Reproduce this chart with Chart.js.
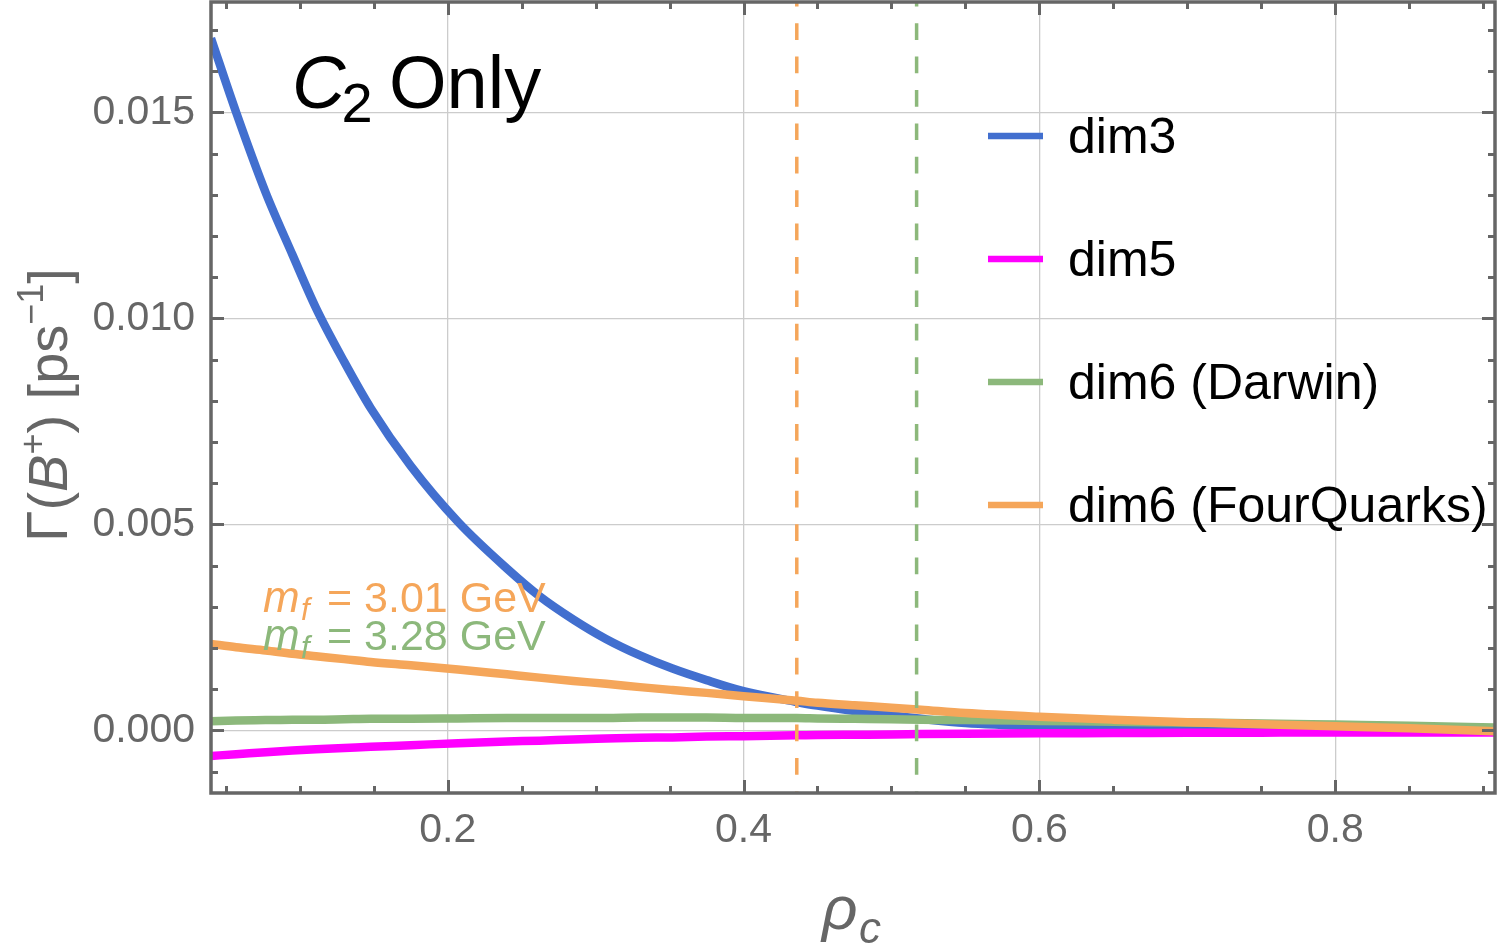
<!DOCTYPE html>
<html><head><meta charset="utf-8">
<script src="https://cdn.jsdelivr.net/npm/chart.js@4.4.1/dist/chart.umd.min.js"></script>
<style>html,body{margin:0;padding:0;background:#fff;overflow:hidden}#wrap{width:1500px;height:949px}</style>
</head><body><div id="wrap"><canvas id="c" width="1500" height="949"></canvas></div>
<script>
// ---- data ----
const rho = [0.04,0.057,0.077,0.095,0.111,0.13,0.148,0.175,0.207,0.24,0.262,0.285,0.307,0.33,0.352,0.375,0.4,0.436,0.45,0.475,0.5,0.52,0.55,0.6,0.65,0.7,0.75,0.8,0.85,0.908];
const dim3 = [0.0168,0.0150,0.01305,0.01155,0.01025,0.00895,0.00782,0.00642,0.00506,0.00393,0.00326,0.00269,0.00222,0.00182,0.0015,0.00122,0.00095,0.00069,0.0006,0.00047,0.00036,0.00028,0.00018,0.0001,0.00006,0.00003,0.00002,0.00001,0.0,0.0];
const dim5 = [-0.00062,-0.00058,-0.00053,-0.00049,-0.00046,-0.00043,-0.0004,-0.00036,-0.00031,-0.00027,-0.00025,-0.00022,-0.0002,-0.00018,-0.00017,-0.00015,-0.00014,-0.00012,-0.00011,-0.000105,-0.0001,-0.00009,-0.00008,-0.00007,-0.000065,-0.00006,-0.000055,-0.00005,-0.00005,-0.00005];
const dim6Darwin = [0.00022,0.00024,0.00025,0.00026,0.00026,0.00027,0.00028,0.00028,0.00029,0.0003,0.0003,0.0003,0.0003,0.00031,0.00031,0.00031,0.0003,0.0003,0.00029,0.00028,0.00027,0.00026,0.00025,0.00023,0.00021,0.00019,0.00017,0.00014,0.00011,0.00007];
const dim6FourQuarks = [0.0021,0.00202,0.00194,0.00186,0.0018,0.00173,0.00166,0.00158,0.00148,0.00136,0.00128,0.0012,0.00113,0.00105,0.00098,0.00091,0.00083,0.00072,0.00067,0.00061,0.00055,0.0005,0.00042,0.00033,0.00026,0.0002,0.00015,0.0001,0.00005,-0.00002];
const seriesLabels = ['dim3','dim5','dim6 (Darwin)','dim6 (FourQuarks)'];
const seriesColors = ['#426fcf','#ff00ff','#8cb87b','#f5a65a'];
const xTicks = [0.2,0.4,0.6,0.8];
const xTickLabels = ['0.2','0.4','0.6','0.8'];
const yTicks = [0,0.005,0.01,0.015];
const yTickLabels = ['0.000','0.005','0.010','0.015'];
const mfRho = [0.436,0.517];
const mfText = ['3.01 GeV','3.28 GeV'];
const mfColors = ['#f5a65a','#8cb87b'];
const xRange = [0.04,0.908];
const yRange = [-0.00152,0.01768];
const xMinorStep = 0.05, yMinorStep = 0.001;

const FONT = "'Liberation Sans', Arial, Helvetica, sans-serif";
const GRAY = '#666666';
const series = [dim3, dim5, dim6Darwin, dim6FourQuarks];

const datasets = series.map((s,i)=>({
  label: seriesLabels[i],
  data: rho.map((x,j)=>({x:x,y:s[j]})),
  borderColor: seriesColors[i],
  borderWidth: 8.5,
  pointRadius: 0,
  fill: false,
  cubicInterpolationMode: 'monotone',
  order: 4 - i
}));
mfRho.forEach((r,i)=>{
  datasets.push({
    label: 'mf' + i,
    data: [{x:r,y:yRange[1]},{x:r,y:yRange[0]}],
    borderColor: mfColors[i],
    borderWidth: 3.5,
    borderDash: [16.7,16.7],
    borderDashOffset: 12.2,
    pointRadius: 0,
    fill: false,
    order: 0
  });
});

const decor = {
  id: 'decor',
  afterDraw(chart){
    const ctx = chart.ctx, a = chart.chartArea, xs = chart.scales.x, ys = chart.scales.y;
    ctx.save();
    // ticks on all four sides
    ctx.strokeStyle = GRAY; ctx.lineWidth = 3;
    ctx.beginPath();
    for (let k = 1; k * xMinorStep <= xRange[1] + 1e-9; k++) {
      const v = k * xMinorStep; if (v < xRange[0]) continue;
      const px = Math.round(xs.getPixelForValue(v)) + 0.5;
      const len = (k % 4 === 0) ? 13 : 7;
      ctx.moveTo(px, a.bottom); ctx.lineTo(px, a.bottom - len);
      ctx.moveTo(px, a.top); ctx.lineTo(px, a.top + len);
    }
    for (let k = -1; k * yMinorStep <= yRange[1] + 1e-9; k++) {
      const v = k * yMinorStep; if (v < yRange[0]) continue;
      const py = Math.round(ys.getPixelForValue(v)) + 0.5;
      const len = (k % 5 === 0) ? 13 : 7;
      ctx.moveTo(a.left, py); ctx.lineTo(a.left + len, py);
      ctx.moveTo(a.right, py); ctx.lineTo(a.right - len, py);
    }
    ctx.stroke();
    // frame
    ctx.lineWidth = 3.5;
    ctx.strokeRect(a.left, a.top, a.right - a.left, a.bottom - a.top);

    // title C2 Only
    ctx.fillStyle = '#000';
    ctx.textBaseline = 'alphabetic'; ctx.textAlign = 'left';
    ctx.font = 'italic 74px ' + FONT;
    ctx.fillText('C', 292, 108);
    const cw = ctx.measureText('C').width;
    ctx.font = '56px ' + FONT;
    ctx.fillText('2', 292 + cw - 4, 122);
    ctx.font = '74px ' + FONT;
    ctx.fillText('Only', 389, 108);

    // legend
    const lx0 = 988, lx1 = 1043, ly0 = 136, lstep = 123;
    for (let i = 0; i < seriesLabels.length; i++) {
      const y = ly0 + i * lstep;
      ctx.strokeStyle = seriesColors[i]; ctx.lineWidth = 6.5;
      ctx.beginPath(); ctx.moveTo(lx0, y); ctx.lineTo(lx1, y); ctx.stroke();
      ctx.fillStyle = '#000'; ctx.font = '50px ' + FONT;
      ctx.fillText(seriesLabels[i], 1068, y + 17);
    }

    // m_f annotations
    const mfBase = [612, 650];
    for (let i = 0; i < mfText.length; i++) {
      ctx.fillStyle = mfColors[i];
      ctx.font = 'italic 44px ' + FONT;
      ctx.fillText('m', 263, mfBase[i]);
      ctx.font = 'italic 31px ' + FONT;
      ctx.fillText('f', 301, mfBase[i] + 8);
      ctx.font = '43px ' + FONT;
      ctx.fillText('= ' + mfText[i], 327, mfBase[i]);
    }

    // x title rho_c
    ctx.fillStyle = GRAY;
    ctx.font = 'italic 62px ' + FONT;
    ctx.fillText('\u03C1', 822, 929);
    ctx.font = 'italic 44px ' + FONT;
    ctx.fillText('c', 859, 943);

    // y title Γ(B+) [ps-1]
    ctx.save();
    ctx.translate(67, 542);
    ctx.rotate(-Math.PI / 2);
    let x = 0;
    const piece = (t, f, dy) => { ctx.font = f; ctx.fillText(t, x, dy || 0); x += ctx.measureText(t).width; };
    piece('\u0393', '57px ' + FONT);
    piece('(', '56px ' + FONT);
    piece('B', 'italic 56px ' + FONT);
    piece('+', '36px ' + FONT, -22);
    piece(')', '56px ' + FONT);
    piece(' [ps', '56px ' + FONT);
    piece('\u22121', '36px ' + FONT, -24);
    piece(']', '56px ' + FONT);
    ctx.restore();

    ctx.restore();
  }
};

new Chart(document.getElementById('c'), {
  type: 'line',
  data: { datasets: datasets },
  options: {
    responsive: false, animation: false, devicePixelRatio: 1,
    layout: { padding: { left: 0, right: 5, top: 2, bottom: 0 } },
    plugins: { legend: { display: false }, tooltip: { enabled: false } },
    scales: {
      x: {
        type: 'linear', min: xRange[0], max: xRange[1],
        afterFit(s){ s.height = 156; s.paddingLeft = 0; s.paddingRight = 0; },
        afterBuildTicks(s){ s.ticks = xTicks.map(v => ({ value: v })); },
        grid: { color: '#cccccc', lineWidth: 1.3, drawTicks: false },
        border: { display: false },
        ticks: { color: GRAY, font: { family: FONT, size: 41 }, padding: 13, maxRotation: 0, autoSkip: false,
          callback: (v) => { const i = xTicks.findIndex(t => Math.abs(t - v) < 1e-9); return i >= 0 ? xTickLabels[i] : ''; } }
      },
      y: {
        type: 'linear', min: yRange[0], max: yRange[1],
        afterFit(s){ s.width = 211; s.paddingTop = 0; s.paddingBottom = 0; },
        afterBuildTicks(s){ s.ticks = yTicks.map(v => ({ value: v })); },
        grid: { color: '#cccccc', lineWidth: 1.3, drawTicks: false },
        border: { display: false },
        ticks: { color: GRAY, font: { family: FONT, size: 41 }, padding: 16, autoSkip: false,
          callback: (v) => { const i = yTicks.findIndex(t => Math.abs(t - v) < 1e-12); return i >= 0 ? yTickLabels[i] : ''; } }
      }
    }
  },
  plugins: [decor]
});
</script></body></html>
